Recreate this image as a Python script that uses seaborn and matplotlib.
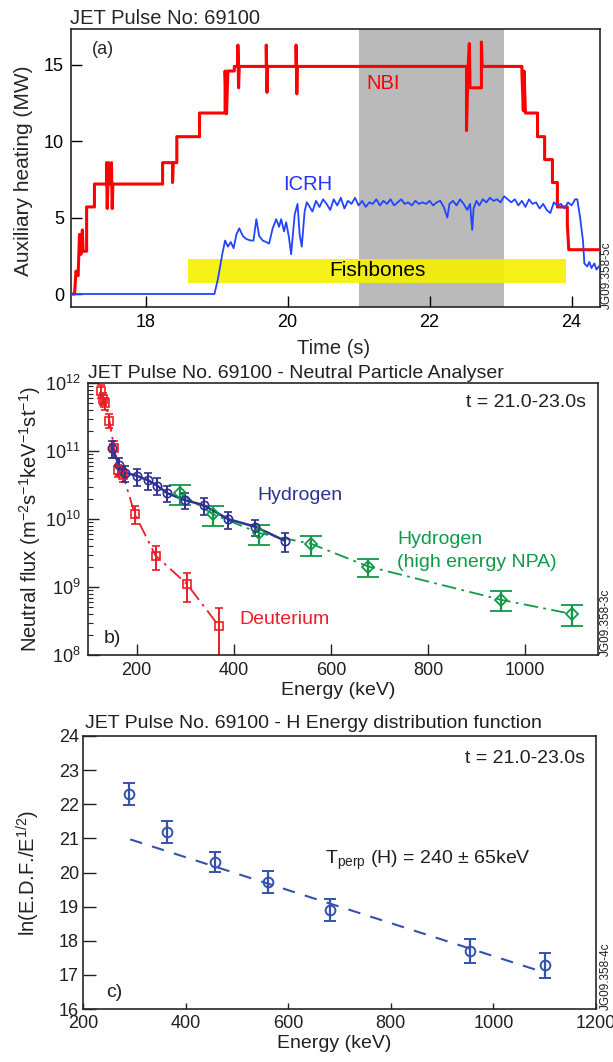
import matplotlib
matplotlib.use("Agg")
import matplotlib.pyplot as plt
import seaborn as sns
import numpy as np
import pandas as pd
from matplotlib.ticker import LogLocator, FixedLocator, NullFormatter

# ---------------- Panel (a): auxiliary heating ----------------
nbi_t = [16.95, 17.0, 17.02, 17.05, 17.07, 17.09, 17.11, 17.12, 17.17, 17.17, 17.28, 17.28,
         17.45, 17.45, 17.46, 17.48, 17.5, 17.52, 17.53, 17.54, 18.24, 18.24, 18.38, 18.38,
         18.39, 18.44, 18.44, 18.5, 18.5, 18.76, 18.76, 19.12, 19.12, 19.14, 19.16, 19.25,
         19.25, 19.3, 19.3, 19.31, 19.32, 19.7, 19.7, 19.71, 19.72, 20.12, 20.12, 20.13,
         20.14, 22.52, 22.52, 22.54, 22.56, 22.57, 22.73, 22.73, 22.74, 23.3, 23.3, 23.32,
         23.33, 23.35, 23.52, 23.52, 23.62, 23.62, 23.73, 23.73, 23.8, 23.8, 23.94, 23.94,
         23.96, 23.97, 24.4]
nbi_p = [0, 0, 1.5, 1.2, 3.9, 2.6, 4.2, 2.8, 2.8, 5.7, 5.7, 7.2,
         7.2, 8.6, 5.6, 8.6, 7.2, 8.6, 5.6, 7.2, 7.2, 8.6, 8.6, 7.3,
         8.6, 8.6, 10.3, 10.3, 10.3, 10.3, 11.85, 11.85, 14.6, 11.8, 14.6, 14.6,
         14.9, 14.9, 16.3, 13.5, 14.9, 14.9, 16.3, 13.2, 14.9, 14.9, 16.3, 13.1,
         14.9, 14.9, 10.7, 14.6, 16.4, 13.5, 13.5, 16.5, 14.9, 14.9, 14.5, 12.0,
         14.6, 11.85, 11.85, 10.3, 10.3, 8.8, 8.8, 7.3, 7.3, 5.7, 5.7, 4.6,
         2.9, 2.9, 2.9]

icrh_t = [16.95, 18.97, 19.02, 19.08, 19.12, 19.16, 19.2, 19.24, 19.28, 19.32, 19.37, 19.42,
          19.48, 19.52, 19.56, 19.6, 19.65, 19.7, 19.74, 19.79, 19.84, 19.88, 19.91, 19.95,
          19.98, 20.02, 20.05, 20.1, 20.14, 20.17, 20.2, 20.24, 20.27, 20.3, 20.35, 20.4,
          20.45, 20.5, 20.55, 20.6, 20.65, 20.7, 20.75, 20.8, 20.85, 20.9, 20.95, 21.0,
          21.05, 21.1, 21.15, 21.2, 21.25, 21.3, 21.35, 21.4, 21.45, 21.5, 21.55, 21.6,
          21.65, 21.7, 21.75, 21.8, 21.85, 21.9, 21.95, 22.0, 22.05, 22.1, 22.15, 22.2,
          22.25, 22.28, 22.33, 22.38, 22.43, 22.48, 22.53, 22.57, 22.6, 22.62, 22.66, 22.7,
          22.75, 22.8, 22.85, 22.9, 22.95, 23.0, 23.05, 23.1, 23.15, 23.2, 23.25, 23.3,
          23.35, 23.4, 23.45, 23.5, 23.55, 23.6, 23.65, 23.7, 23.75, 23.8, 23.85, 23.9,
          23.95, 24.0, 24.05, 24.08, 24.12, 24.16, 24.18, 24.22, 24.25, 24.28, 24.32, 24.35,
          24.4]
icrh_p = [0, 0, 1.0, 2.6, 3.5, 3.1, 3.4, 3.0, 3.9, 4.3, 3.8, 3.6,
          3.5, 3.5, 4.9, 3.8, 3.5, 3.4, 3.3, 4.3, 4.9, 4.4, 4.9, 4.1,
          4.7, 3.7, 2.6, 5.2, 5.9, 3.9, 3.1, 5.4, 6.0, 5.8, 5.4, 6.1,
          5.7, 6.2, 5.9, 5.5, 6.2, 5.8, 6.3, 5.6, 6.1, 5.9, 6.3, 5.8,
          6.1, 5.7, 6.0, 5.9, 6.2, 5.8, 6.1, 5.9, 6.2, 5.8, 6.0, 6.2,
          5.9, 6.0, 5.8, 6.1, 5.9, 6.0, 5.9, 6.1, 5.8, 6.0, 6.1, 5.7,
          5.0, 5.9, 6.1, 5.8, 6.2, 5.9, 5.5, 5.9, 4.2, 5.6, 6.1, 5.8,
          6.2, 6.0, 6.3, 6.1, 6.2, 6.0, 6.4, 6.2, 6.0, 6.2, 5.8, 6.1,
          5.7, 6.2, 5.9, 6.0, 5.6, 5.9, 5.5, 5.3, 6.0, 5.8, 5.9, 5.6,
          6.0, 5.8, 6.2, 6.2, 5.0, 3.5, 2.0, 1.8, 2.1, 1.7, 2.0, 1.6,
          1.9]

analysis_window = [21.0, 23.05]
fishbones_t = [18.6, 23.92]
fishbones_p = [0.72, 2.3]

# ---------------- Panel (b): neutral particle analyser ----------------
d_E = [126, 131, 136, 144, 154, 161, 172, 196, 239, 304, 369]
d_flux = [7.7e11, 5.9e11, 5.0e11, 2.8e11, 1.1e11, 5.2e10, 4.5e10, 1.2e10, 2.9e9, 1.1e9, 2.7e8]
d_err = [1.6e11, 1.2e11, 1.0e11, 0.65e11, 0.3e11, 1.1e10, 1.0e10, 0.35e10, 1.1e9, 0.5e9, 0.22e9]

h_E = [150, 164, 177, 201, 224, 242, 263, 299, 338, 388, 444, 505]
h_flux = [1.1e11, 6.2e10, 4.8e10, 4.3e10, 3.7e10, 3.1e10, 2.4e10, 1.9e10, 1.6e10, 1.0e10, 7.7e9, 4.8e9]
h_err = [0.3e11, 1.7e10, 1.3e10, 1.2e10, 1.0e10, 0.85e10, 0.65e10, 0.5e10, 0.45e10, 0.28e10, 2.1e9, 1.5e9]

hh_E = [289, 358, 453, 560, 677, 950, 1097]
hh_flux = [2.4e10, 1.17e10, 6.2e9, 4.3e9, 2.0e9, 6.5e8, 4.0e8]
hh_err = [0.8e10, 0.37e10, 2.0e9, 1.4e9, 0.6e9, 2.1e8, 1.35e8]

# ---------------- Panel (c): H energy distribution function ----------------
c_E = [290, 364, 458, 561, 682, 954, 1101]
c_lnf = [22.3, 21.19, 20.31, 19.73, 18.9, 17.7, 17.28]
c_err = [0.32, 0.32, 0.3, 0.32, 0.32, 0.36, 0.36]
fit_E = [292, 1085]
fit_lnf = [20.97, 17.14]

a_xticks = [18, 20, 22, 24]
a_yticks = [0, 5, 10, 15]
b_xticks = [200, 400, 600, 800, 1000]
c_xticks = [200, 400, 600, 800, 1000, 1200]
c_yticks = [16, 17, 18, 19, 20, 21, 22, 23, 24]

# ---------------- style ----------------
sns.set_style("ticks")
plt.rcParams['font.family'] = ['Liberation Sans', 'DejaVu Sans']
plt.rcParams['mathtext.fontset'] = 'custom'
plt.rcParams['mathtext.rm'] = 'Liberation Sans'
plt.rcParams['mathtext.it'] = 'Liberation Sans:italic'
plt.rcParams['mathtext.bf'] = 'Liberation Sans:bold'
plt.rcParams['axes.linewidth'] = 1.2

W, H = 613, 1062
fig = plt.figure(figsize=(W / 100, H / 100), dpi=100)
TXT = '#231f20'

def box(l, t, r, b):
    return [l / W, 1 - b / H, (r - l) / W, (b - t) / H]

# ---------------- (a) ----------------
ax1 = fig.add_axes(box(71, 29, 600, 307))
ax1.axvspan(analysis_window[0], analysis_window[1], color='#bababa', lw=0, zorder=0)
ax1.fill_between(fishbones_t, fishbones_p[0], fishbones_p[1], color='#f4f000', alpha=0.9,
                 lw=0, zorder=1)
sns.lineplot(x=icrh_t, y=icrh_p, ax=ax1, color='#2244ff', lw=1.3, sort=False,
             estimator=None, zorder=4)
sns.lineplot(x=nbi_t, y=nbi_p, ax=ax1, color='#ff0000', lw=2.2, sort=False,
             estimator=None, zorder=3)
ax1.set_xlim(16.95, 24.4)
ax1.set_ylim(-0.85, 17.35)
ax1.xaxis.set_major_locator(FixedLocator(a_xticks))
ax1.yaxis.set_major_locator(FixedLocator(a_yticks))
ax1.tick_params(direction='in', length=8, width=1, labelsize=13, colors='black',
                top=False, right=False, pad=5)
ax1.set_xlabel('Time (s)', fontsize=14.5)
ax1.set_ylabel('Auxiliary heating (MW)', fontsize=15)
ax1.xaxis.set_label_coords(0.497, -0.115)
ax1.yaxis.set_label_coords(-0.072, 0.49)
ax1.text(0.04, 0.926, '(a)', transform=ax1.transAxes, fontsize=13, va='center', ha='left')
ax1.text(21.11, 13.8, 'NBI', color='#ff0000', fontsize=14.5, va='center', ha='left')
ax1.text(19.94, 7.2, 'ICRH', color='#2233ff', fontsize=14.5, va='center', ha='left')
ax1.text((fishbones_t[0] + fishbones_t[1]) / 2, (fishbones_p[0] + fishbones_p[1]) / 2,
         'Fishbones', color='black', fontsize=15, va='center', ha='center', zorder=5)
fig.text(70 / W, 1 - 24 / H, 'JET Pulse No: 69100', fontsize=14.5, va='baseline', ha='left')
fig.text(607 / W, 1 - 275 / H, 'JG09.358-5c', fontsize=8.5, rotation=90, va='center', ha='center')

# ---------------- (b) ----------------
ax2 = fig.add_axes(box(88, 383, 598, 655))
c_d, c_h, c_hh = '#ee1c25', '#2e3192', '#0f9a48'
sns.lineplot(x=hh_E, y=hh_flux, ax=ax2, color=c_hh, lw=1.3, dashes=False, estimator=None,
             sort=False, linestyle=(0, (8, 3, 1.5, 3)))
ax2.errorbar(hh_E, hh_flux, yerr=hh_err, fmt='D', mfc='none', mec=c_hh, ms=6, mew=1.3,
             ecolor=c_hh, elinewidth=1.6, capsize=8, capthick=1.6)
sns.lineplot(x=d_E, y=d_flux, ax=ax2, color=c_d, lw=1.3, estimator=None, sort=False,
             linestyle=(0, (8, 3, 1.5, 3)))
ax2.errorbar(d_E, d_flux, yerr=d_err, fmt='s', mfc='none', mec=c_d, ms=6, mew=1.2,
             ecolor=c_d, elinewidth=1.4, capsize=3, capthick=1.4)
sns.lineplot(x=h_E, y=h_flux, ax=ax2, color=c_h, lw=1.8, estimator=None, sort=False)
ax2.errorbar(h_E, h_flux, yerr=h_err, fmt='o', mfc='none', mec=c_h, ms=6, mew=1.2,
             ecolor=c_h, elinewidth=1.4, capsize=3, capthick=1.4)
ax2.set_yscale('log')
ax2.set_xlim(100, 1150)
ax2.set_ylim(1e8, 1e12)
ax2.xaxis.set_major_locator(FixedLocator(b_xticks))
ax2.yaxis.set_major_locator(LogLocator(base=10, numticks=10))
ax2.yaxis.set_minor_locator(LogLocator(base=10, subs=np.arange(2, 10), numticks=20))
ax2.yaxis.set_minor_formatter(NullFormatter())
ax2.tick_params(which='major', direction='in', length=8, width=1, labelsize=13,
                colors=TXT, top=False, right=False, pad=5)
ax2.tick_params(which='minor', direction='in', length=3.5, width=0.8, top=False, right=False)
ax2.set_xlabel('Energy (keV)', fontsize=14, color=TXT)
ax2.set_ylabel('Neutral flux (m$^{-2}$s$^{-1}$keV$^{-1}$st$^{-1}$)', fontsize=14.5, color=TXT)
ax2.xaxis.set_label_coords(0.49, -0.1)
ax2.yaxis.set_label_coords(-0.088, 0.5)
ax2.text(0.976, 0.912, 't = 21.0-23.0s', transform=ax2.transAxes, fontsize=14, ha='right',
         va='baseline', color=TXT)
ax2.text(0.333, 0.57, 'Hydrogen', transform=ax2.transAxes, fontsize=14, color=c_h, va='baseline')
ax2.text(0.606, 0.408, 'Hydrogen', transform=ax2.transAxes, fontsize=14, color=c_hh, va='baseline')
ax2.text(0.606, 0.324, '(high energy NPA)', transform=ax2.transAxes, fontsize=14, color=c_hh,
         va='baseline')
ax2.text(0.296, 0.114, 'Deuterium', transform=ax2.transAxes, fontsize=14, color=c_d, va='baseline')
ax2.text(0.03, 0.044, 'b)', transform=ax2.transAxes, fontsize=14, color=TXT, va='baseline')
fig.text(88 / W, 1 - 378 / H, 'JET Pulse No. 69100 - Neutral Particle Analyser', fontsize=14,
         va='baseline', ha='left', color=TXT)
fig.text(606 / W, 1 - 622 / H, 'JG09.358-3c', fontsize=8.5, rotation=90, va='center', ha='center',
         color=TXT)

# ---------------- (c) ----------------
ax3 = fig.add_axes(box(83, 736, 596, 1009))
c_c = '#3352ad'
sns.lineplot(x=fit_E, y=fit_lnf, ax=ax3, color=c_c, lw=1.5, estimator=None, sort=False,
             linestyle=(0, (6, 5)))
ax3.errorbar(c_E, c_lnf, yerr=c_err, fmt='o', mfc='none', mec=c_c, ms=7, mew=1.4,
             ecolor=c_c, elinewidth=1.6, capsize=4, capthick=1.6)
ax3.set_xlim(200, 1200)
ax3.set_ylim(16, 24)
ax3.xaxis.set_major_locator(FixedLocator(c_xticks))
ax3.yaxis.set_major_locator(FixedLocator(c_yticks))
ax3.tick_params(axis='y', direction='in', length=9, width=1, labelsize=13, colors=TXT,
                right=False, pad=3)
ax3.tick_params(axis='x', direction='in', length=4.5, width=1, labelsize=13, colors=TXT,
                top=False, pad=4)
ax3.set_xlabel('Energy (keV)', fontsize=14, color=TXT)
ax3.set_ylabel('ln(E.D.F./E$^{1/2}$)', fontsize=14.5, color=TXT)
ax3.xaxis.set_label_coords(0.49, -0.097)
ax3.yaxis.set_label_coords(-0.08, 0.5)
ax3.text(0.979, 0.901, 't = 21.0-23.0s', transform=ax3.transAxes, fontsize=14, ha='right',
         va='baseline', color=TXT)
ax3.text(0.472, 0.53, 'T$_{\\mathrm{perp}}$ (H) = 240 $\\pm$ 65keV', transform=ax3.transAxes,
         fontsize=14, va='baseline', color=TXT)
ax3.text(0.045, 0.044, 'c)', transform=ax3.transAxes, fontsize=14, va='baseline', color=TXT)
fig.text(85 / W, 1 - 728 / H, 'JET Pulse No. 69100 - H Energy distribution function', fontsize=14,
         va='baseline', ha='left', color=TXT)
fig.text(606 / W, 1 - 976 / H, 'JG09.358-4c', fontsize=8.5, rotation=90, va='center', ha='center',
         color=TXT)

fig.savefig('out.png', dpi=100)
